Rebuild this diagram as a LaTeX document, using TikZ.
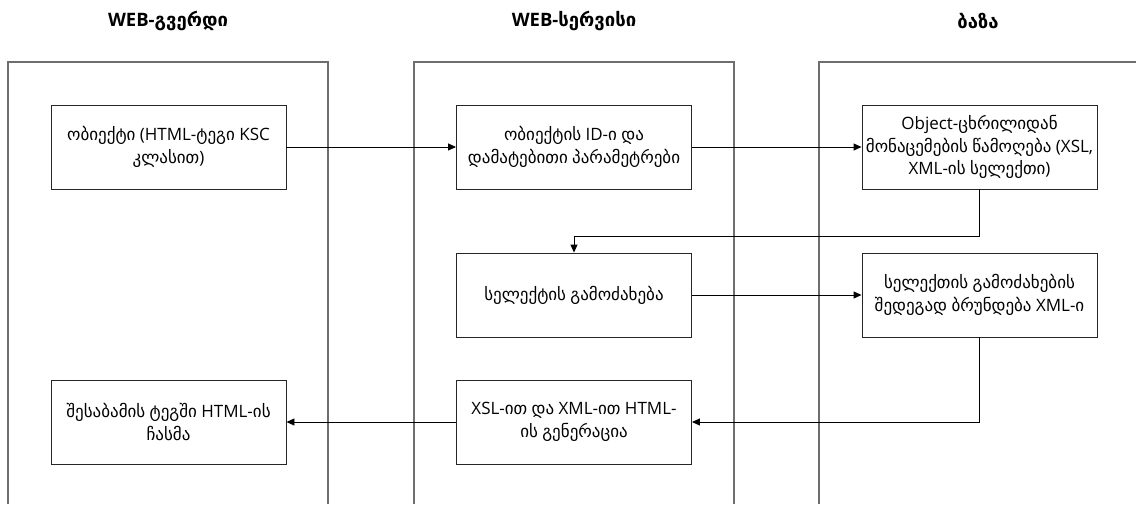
\documentclass[tikz,border=0pt]{standalone}
\usepackage{fontspec}
\setmainfont{Open Sans}
\newfontfamily\geo{DejaVu Sans}
\usetikzlibrary{arrows.meta}
\XeTeXinterchartokenstate=1
\newXeTeXintercharclass\GeoClass
\newcount\mycnt
\mycnt="10A0
\loop \XeTeXcharclass\mycnt=\GeoClass \advance\mycnt by 1 \ifnum\mycnt<"1100 \repeat
\XeTeXinterchartoks 0 \GeoClass = {\geo}
\XeTeXinterchartoks 4095 \GeoClass = {\geo}
\XeTeXinterchartoks \GeoClass 0 = {\rmfamily}
\XeTeXinterchartoks \GeoClass 4095 = {\rmfamily}
\definecolor{lanegray}{RGB}{110,110,110}
\tikzset{
  lane/.style={draw=lanegray, line width=1.1pt},
  box/.style={draw=black!85, line width=0.9pt, minimum width=235pt, minimum height=84pt, align=center, inner sep=2pt, font=\fontsize{17}{22.5}\selectfont},
  head/.style={font=\fontsize{18.5}{22}\selectfont\bfseries},
  arr/.style={draw=black, line width=0.9pt, -{Triangle[length=8pt,width=7pt]}},
}
\begin{document}
\begin{tikzpicture}[x=1pt,y=-1pt]
\useasboundingbox[fill=white] (0,0) rectangle (1136,504);
% lanes
\draw[lane] (8,504) -- (8,62) -- (328,62) -- (328,504);
\draw[lane] (414,504) -- (414,62) -- (734,62) -- (734,504);
\draw[lane] (819,504) -- (819,62) -- (1136,62);
% headers
\node[head] (h1) at (168,21) {WEB-გვერდი};
\node[head] (h2) at (574,21) {WEB-სერვისი};
\node[head] (h3) at (978,21) {ბაზა};
% boxes
\node[box] (A) at (168.5,147) {ობიექტი (HTML-ტეგი KSC\\კლასით)};
\node[box] (B) at (574,147) {ობიექტის ID-ი და\\დამატებითი პარამეტრები};
\node[box] (C) at (979.5,147) {Object-ცხრილიდან\\მონაცემების წამოღება (XSL,\\XML-ის სელექთი)};
\node[box] (D) at (574,295) {სელექტის გამოძახება};
\node[box] (E) at (979.5,295) {სელექთის გამოძახების\\შედეგად ბრუნდება XML-ი};
\node[box] (F) at (168.5,422) {შესაბამის ტეგში HTML-ის\\ჩასმა};
\node[box] (G) at (574,422) {XSL-ით და XML-ით HTML-\\ის გენერაცია};
% connectors
\coordinate (k1) at (574,236);
\draw[arr] (A) -- (B);
\draw[arr] (B) -- (C);
\draw[arr] (C.south) |- (k1) -- (D.north);
\draw[arr] (D) -- (E);
\draw[arr] (E.south) |- (G.east);
\draw[arr] (G) -- (F);
\end{tikzpicture}
\end{document}
